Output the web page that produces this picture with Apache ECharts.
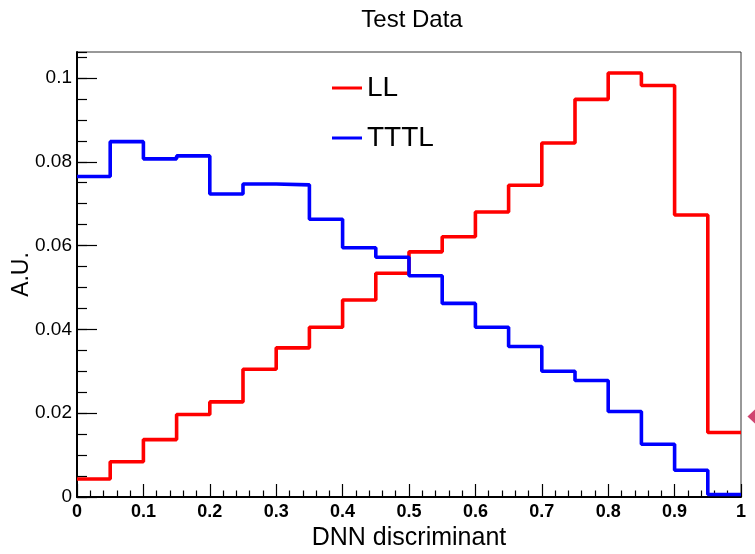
<!DOCTYPE html>
<html>
<head>
<meta charset="utf-8">
<script src="https://cdn.jsdelivr.net/npm/echarts@6/dist/echarts.min.js"></script>
<style>
  html, body { margin: 0; padding: 0; background: #fff; }
  #chart { width: 755px; height: 554px; }
</style>
</head>
<body>
<div id="chart"></div>
<script>
// Bin edges of the DNN discriminant histogram (20 bins of width 0.05)
const binEdges = [0, 0.05, 0.1, 0.15, 0.2, 0.25, 0.3, 0.35, 0.4, 0.45, 0.5,
                  0.55, 0.6, 0.65, 0.7, 0.75, 0.8, 0.85, 0.9, 0.95, 1.0];

// Normalised bin contents (A.U.)
const llValues = [0.0043, 0.0084, 0.0137, 0.0197, 0.0227, 0.0305, 0.0356, 0.0405, 0.0470, 0.0534,
                  0.0585, 0.0621, 0.0680, 0.0744, 0.0845, 0.0949, 0.1012, 0.0982, 0.0673, 0.0154];
const ttlValues = [0.0765, 0.0848, 0.0807, 0.0814, 0.0723, 0.0747, 0.0745, 0.0663, 0.0595, 0.0572,
                   0.0528, 0.0462, 0.0405, 0.0359, 0.0300, 0.0278, 0.0204, 0.0126, 0.0064, 0.0006];

// Overflow marker sitting just past the right edge of the frame
const overflowMark = [[1.021, 0.0192]];

const xTickLabels = ['0', '0.1', '0.2', '0.3', '0.4', '0.5', '0.6', '0.7', '0.8', '0.9', '1'];
const yTickLabels = ['0', '0.02', '0.04', '0.06', '0.08', '0.1'];

// Step outline: each bin value starts at its low edge; repeat the last value at x = 1
function histPoints(values) {
  const pts = values.map((v, i) => [binEdges[i], v]);
  pts.push([binEdges[binEdges.length - 1], values[values.length - 1]]);
  return pts;
}

const FONT = "'Liberation Sans', Arial, Helvetica, sans-serif";
const yMax = 0.1062;

const chart = echarts.init(document.getElementById('chart'), null, { renderer: 'canvas' });

chart.setOption({
  animation: false,
  backgroundColor: '#ffffff',
  title: {
    text: 'Test Data',
    left: 407,
    top: 3,
    textAlign: 'center',
    textStyle: { fontFamily: FONT, fontSize: 24, fontWeight: 'normal', color: '#000' }
  },
  legend: {
    data: ['LL', 'TTTL'],
    orient: 'vertical',
    left: 332,
    top: 74,
    padding: 0,
    itemWidth: 30,
    itemHeight: 3,
    itemGap: 22,
    icon: 'rect',
    textStyle: { fontFamily: FONT, fontSize: 28, lineHeight: 28, color: '#000' }
  },
  grid: {
    left: 77, right: 14, top: 52, bottom: 57,
    outerBoundsMode: 'none',
    containLabel: false,
    show: true,
    borderColor: '#333',
    borderWidth: 1,
    backgroundColor: '#fff'
  },
  xAxis: {
    type: 'value',
    min: 0, max: 1, interval: 0.1,
    name: 'DNN discriminant',
    nameLocation: 'middle',
    nameGap: 29,
    nameMoveOverlap: false,
    nameTextStyle: { fontFamily: FONT, fontSize: 25, color: '#000' },
    axisLine: { show: true, lineStyle: { color: '#000', width: 2 } },
    axisTick: { show: true, inside: true, length: 13, lineStyle: { color: '#000', width: 1.2 } },
    minorTick: { show: true, splitNumber: 5, length: 6.5, lineStyle: { color: '#000', width: 1.2 } },
    splitLine: { show: false },
    axisLabel: {
      margin: 6,
      fontFamily: FONT, fontSize: 18, fontWeight: 'bold', color: '#000',
      formatter: v => xTickLabels[Math.round(v * 10)] ?? ''
    }
  },
  yAxis: [
    {
      type: 'value',
      min: 0, max: yMax, interval: 0.02,
      name: 'A.U.',
      nameLocation: 'middle',
      nameGap: 44,
      nameMoveOverlap: false,
      nameTextStyle: { fontFamily: FONT, fontSize: 23, color: '#000' },
      axisLine: { show: true, lineStyle: { color: '#000', width: 2 } },
      axisTick: { show: true, inside: true, length: 20, lineStyle: { color: '#000', width: 1.2 } },
      splitLine: { show: false },
      axisLabel: {
        margin: 5,
        showMaxLabel: false,
        fontFamily: FONT, fontSize: 19, color: '#000',
        formatter: v => {
          const idx = Math.round(v / 0.02);
          return Math.abs(v - idx * 0.02) < 1e-6 ? (yTickLabels[idx] ?? '') : '';
        }
      }
    },
    {
      // minor ticks every 0.005
      type: 'value',
      position: 'left',
      min: 0, max: yMax, interval: 0.005,
      axisLine: { show: false },
      axisTick: { show: true, inside: true, length: 10, lineStyle: { color: '#000', width: 1.2 } },
      axisLabel: { show: false },
      splitLine: { show: false }
    }
  ],
  series: [
    {
      name: 'LL',
      type: 'line',
      step: 'end',
      data: histPoints(llValues),
      showSymbol: false,
      symbol: 'none',
      color: '#ff0000',
      lineStyle: { color: '#ff0000', width: 3.6 },
      z: 3
    },
    {
      name: 'TTTL',
      type: 'line',
      step: 'end',
      data: histPoints(ttlValues),
      showSymbol: false,
      symbol: 'none',
      color: '#0000ff',
      lineStyle: { color: '#0000ff', width: 3.6 },
      z: 3
    },
    {
      name: 'overflow',
      type: 'scatter',
      data: overflowMark,
      symbol: 'diamond',
      symbolSize: [15, 14],
      clip: false,
      silent: true,
      itemStyle: { color: '#c4174c' },
      z: 4
    }
  ]
});
</script>
</body>
</html>
